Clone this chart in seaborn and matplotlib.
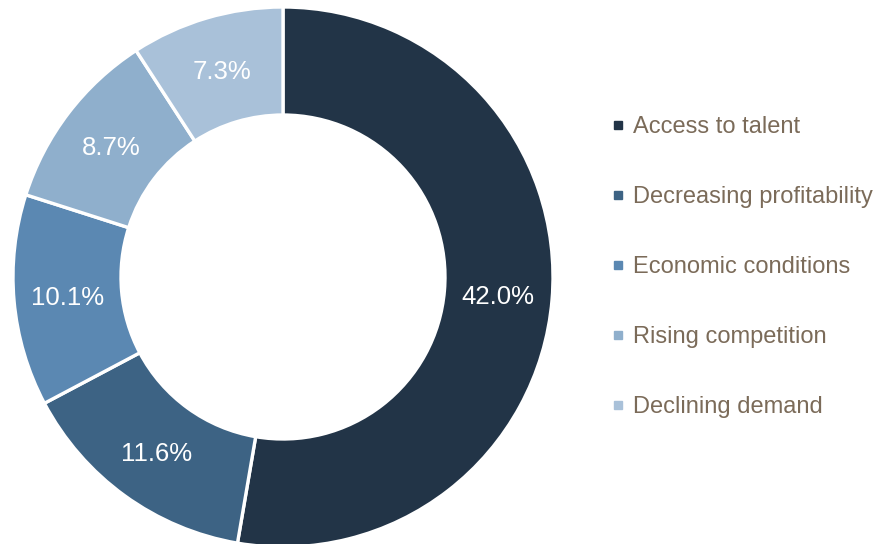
import matplotlib
matplotlib.use("Agg")
import matplotlib.pyplot as plt
from matplotlib.lines import Line2D
import numpy as np
import seaborn as sns

# Main obstacles to growth, share of respondents (%)
categories = [
    "Access to talent",
    "Decreasing profitability",
    "Economic conditions",
    "Rising competition",
    "Declining demand",
]
shares = [42.0, 11.6, 10.1, 8.7, 7.3]
slice_colors = ["#223447", "#3D6384", "#5B88B2", "#8FAFCC", "#A9C1D9"]

sns.set_theme(style="white")
plt.rcParams["font.family"] = ["Liberation Sans", "DejaVu Sans"]
palette = sns.color_palette(slice_colors)

W, H = 886, 544
cx, cy, r = 283, 277, 270  # donut centre and outer radius in pixels

fig = plt.figure(figsize=(W / 100, H / 100), dpi=100)
ax = fig.add_axes([(cx - r) / W, (H - cy - r) / H, 2 * r / W, 2 * r / H])

wedges, _ = ax.pie(
    shares,
    colors=palette,
    startangle=90,
    counterclock=False,
    radius=1.0,
    wedgeprops=dict(width=0.4, edgecolor="white", linewidth=2.4),
)

# Value labels at the middle of the ring
total = sum(shares)
angle = 90.0
for val in shares:
    sweep = 360.0 * val / total
    mid = np.deg2rad(angle - sweep / 2)
    ax.annotate(f"{val:.1f}%", xy=(0.8 * np.cos(mid), 0.8 * np.sin(mid)),
                xytext=(0, -1.5), textcoords="offset points",
                ha="center", va="center", color="white", fontsize=18.5)
    angle -= sweep

ax.set_xlim(-1, 1)
ax.set_ylim(-1, 1)
ax.set_aspect("equal")
ax.axis("off")

handles = [Line2D([], [], marker="s", linestyle="none", markersize=5.8,
                  markerfacecolor=c, markeredgecolor=c) for c in palette]
leg = fig.legend(
    handles, categories,
    loc="center left",
    bbox_to_anchor=(601 / W, (H - 267) / H),
    frameon=False,
    fontsize=17,
    handlelength=0.6,
    handletextpad=0.35,
    labelspacing=2.03,
    borderaxespad=0,
)
for t in leg.get_texts():
    t.set_color("#7B6B59")

fig.savefig("out.png", dpi=100)
